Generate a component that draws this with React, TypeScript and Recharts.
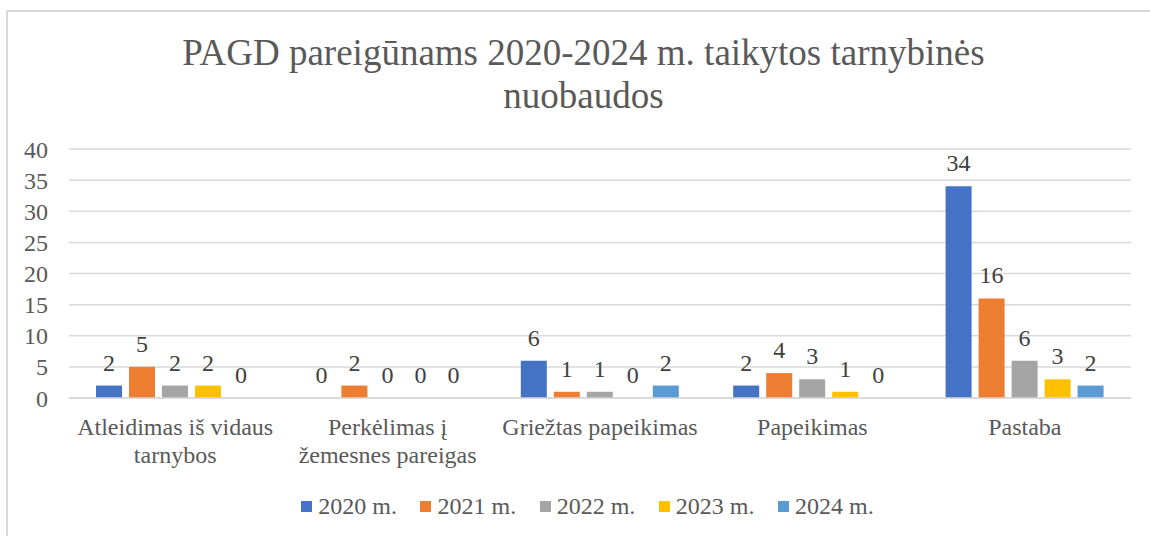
import React from 'react';
import { BarChart, Bar, XAxis, YAxis, CartesianGrid, Legend, LabelList } from 'recharts';

const categories = [
  'Atleidimas iš vidaus\ntarnybos',
  'Perkėlimas į\nžemesnes pareigas',
  'Griežtas papeikimas',
  'Papeikimas',
  'Pastaba',
];
const seriesNames = ['2020 m.', '2021 m.', '2022 m.', '2023 m.', '2024 m.'];
const seriesColors = ['#4472C4', '#ED7D31', '#A5A5A5', '#FFC000', '#5B9BD5'];
const values2020 = [2, 0, 6, 2, 34];
const values2021 = [5, 2, 1, 4, 16];
const values2022 = [2, 0, 1, 3, 6];
const values2023 = [2, 0, 0, 1, 3];
const values2024 = [0, 0, 2, 0, 2];
const yTicks = [0, 5, 10, 15, 20, 25, 30, 35, 40];

const seriesValues = [values2020, values2021, values2022, values2023, values2024];

const data = categories.map((name, i) => {
  const row: Record<string, string | number> = { name };
  seriesNames.forEach((s, j) => {
    row[s] = seriesValues[j][i];
  });
  return row;
});

const FONT = '"Liberation Serif", "Times New Roman", serif';

const CategoryTick = (props: any) => {
  const { x, y, payload } = props;
  const lines = String(payload.value).split('\n');
  return (
    <text x={x} y={y} textAnchor="middle" fill="#595959" fontSize={24} fontFamily={FONT}>
      {lines.map((line, i) => (
        <tspan key={i} x={x} dy={i === 0 ? 37 : 28}>
          {line}
        </tspan>
      ))}
    </text>
  );
};

const renderLegend = () => (
  <div
    style={{
      display: 'flex',
      justifyContent: 'center',
      alignItems: 'center',
      height: 24,
      paddingLeft: 36,
      fontFamily: FONT,
      fontSize: 24,
      color: '#595959',
    }}
  >
    {seriesNames.map((s, i) => (
      <div key={s} style={{ display: 'flex', alignItems: 'center', marginRight: i < seriesNames.length - 1 ? 23.5 : 0 }}>
        <span style={{ width: 11, height: 11, background: seriesColors[i], marginRight: 6, display: 'inline-block' }} />
        <span style={{ lineHeight: '24px' }}>{s}</span>
      </div>
    ))}
  </div>
);

const App: React.FC = () => {
  return (
    <div
      style={{
        position: 'absolute',
        left: 6,
        top: 10,
        width: 1144,
        height: 526,
        boxSizing: 'border-box',
        borderTop: '2px solid #d9d9d9',
        borderLeft: '2px solid #d9d9d9',
        overflow: 'hidden',
        background: '#fff',
      }}
    >
      <div
        style={{
          position: 'absolute',
          top: 19,
          left: 0,
          width: '100%',
          paddingLeft: 9,
          boxSizing: 'border-box',
          textAlign: 'center',
          fontFamily: FONT,
          fontSize: 37,
          lineHeight: '43px',
          color: '#595959',
        }}
      >
        PAGD pareigūnams 2020-2024 m. taikytos tarnybinės
        <br />
        nuobaudos
      </div>
      <BarChart
        width={1142}
        height={524}
        data={data}
        margin={{ top: 137, right: 19, left: 0, bottom: 18 }}
        barSize={26}
        barGap={7}
        style={{ fontFamily: FONT }}
      >
        <CartesianGrid vertical={false} stroke="#d9d9d9" strokeWidth={1.5} />
        <XAxis
          dataKey="name"
          interval={0}
          height={96}
          tickLine={false}
          tickSize={0}
          tickMargin={0}
          axisLine={{ stroke: '#d9d9d9', strokeWidth: 1.5 }}
          tick={<CategoryTick />}
        />
        <YAxis
          domain={[0, 40]}
          ticks={yTicks}
          interval={0}
          width={61}
          tickLine={false}
          axisLine={false}
          tickSize={0}
          tickMargin={21}
          tick={{ fill: '#595959', fontSize: 24, fontFamily: FONT }}
        />
        <Legend verticalAlign="bottom" content={renderLegend} />
        {seriesNames.map((s, i) => (
          <Bar key={s} dataKey={s} fill={seriesColors[i]} minPointSize={0.01} isAnimationActive={false}>
            <LabelList
              dataKey={s}
              position="top"
              offset={15}
              fill="#404040"
              fontSize={24}
              fontFamily={FONT}
            />
          </Bar>
        ))}
      </BarChart>
    </div>
  );
};

export default App;
